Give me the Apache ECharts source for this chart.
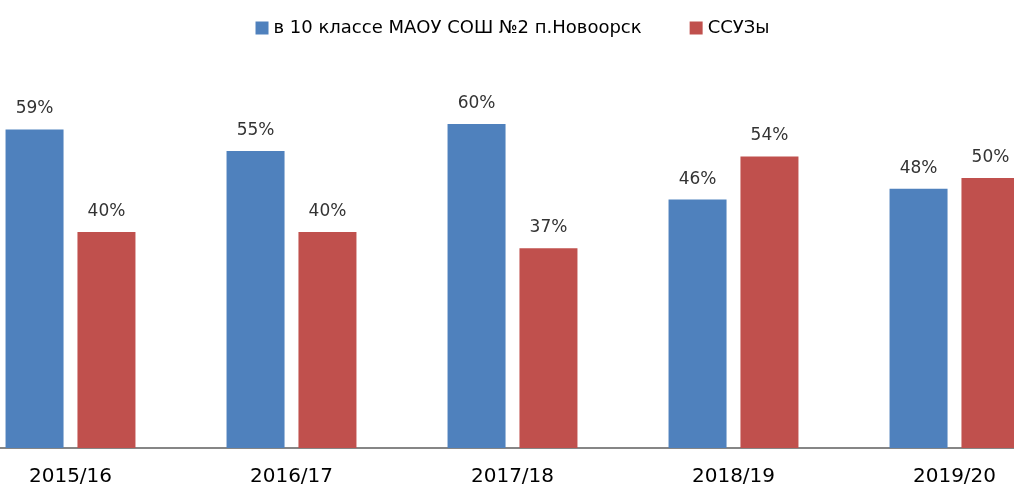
<!DOCTYPE html>
<html>
<head>
<meta charset="utf-8">
<script src="https://cdn.jsdelivr.net/npm/echarts@6/dist/echarts.min.js"></script>
<style>
  html, body { margin: 0; padding: 0; background: #fff; overflow: hidden; }
  body { width: 1014px; height: 487px; position: relative; }
  #main { position: absolute; left: -40px; top: 0; width: 1105px; height: 487px; }
</style>
</head>
<body>
<div id="main"></div>
<script>
const years = ["2015/16", "2016/17", "2017/18", "2018/19", "2019/20"];
const schoolName = "в 10 классе МАОУ СОШ №2 п.Новоорск";
const collegeName = "ССУЗы";
const schoolData = [59, 55, 60, 46, 48];
const collegeData = [40, 40, 37, 54, 50];

const labelStyle = {
  show: true,
  position: "top",
  distance: 12,
  formatter: "{c}%",
  fontFamily: "DejaVu Sans",
  fontSize: 17,
  color: "#333",
};

let option = {
  animation: false,
  legend: {
    top: 14,
    left: "center",
    itemWidth: 13,
    itemHeight: 13,
    itemGap: 48,
    icon: "rect",
    textStyle: {
      fontFamily: "DejaVu Sans",
      fontSize: 18,
      color: "#000",
    },
    data: [schoolName, collegeName],
  },
  grid: {
    left: 0,
    right: 0,
    top: 16,
    bottom: 38,
    containLabel: false,
  },
  xAxis: {
    type: "category",
    data: years,
    axisTick: { show: false },
    axisLine: {
      lineStyle: { color: "#868686", width: 2 },
    },
    axisLabel: {
      margin: 19,
      fontFamily: "DejaVu Sans",
      fontSize: 20,
      color: "#000",
    },
  },
  yAxis: {
    type: "value",
    min: 0,
    max: 80,
    show: false,
    splitLine: { show: false },
  },
  series: [
    {
      name: schoolName,
      type: "bar",
      barWidth: 58,
      barGap: "24%",
      itemStyle: { color: "#4F81BD" },
      label: labelStyle,
      data: schoolData,
    },
    {
      name: collegeName,
      type: "bar",
      barWidth: 58,
      itemStyle: { color: "#C0504D" },
      label: labelStyle,
      data: collegeData,
    },
  ],
};

let myChart = echarts.init(document.getElementById("main"));
option && myChart.setOption(option);
</script>
</body>
</html>
